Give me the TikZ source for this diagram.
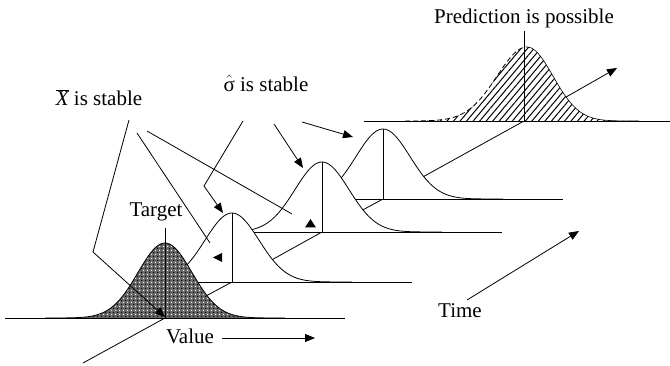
\documentclass[tikz,border=0pt]{standalone}
\usepackage{fontspec}
\setmainfont{Liberation Serif}
\usetikzlibrary{arrows.meta,patterns,patterns.meta}
\begin{document}
\begin{tikzpicture}[x=1pt,y=-1pt,line width=0.8pt,
  lbl/.style={font=\fontsize{21}{24}\selectfont,inner sep=0pt},
  tip/.style={-{Triangle[length=10pt,width=8pt]}},
  tri/.style={fill=black,draw=none}]
\useasboundingbox (0,0) rectangle (670,366);
% origins of the value axes
\coordinate (O1) at (165,318);
\coordinate (O2) at (232,282);
\coordinate (O3) at (322,232);
\coordinate (O4) at (383,199);
\coordinate (O5) at (524,121);
\coordinate (D0) at (83,363);
\coordinate (D1) at (617,68);
% time axis (diagonal)
\draw[tip] (D0) -- (O1) -- (O2) -- (O3) -- (O4) -- (O5) -- (D1);
% curve 5 (prediction)
\draw (364,121) -- (670,121);
\fill[white] plot[domain=-122:0,samples=60] ({527+\x},{121-74*exp(-0.5*(\x/30)^2)})
  -- plot[domain=0:112,samples=60] ({527+\x},{121-74*exp(-0.5*(\x/26)^2)}) -- cycle;
\fill[pattern={Lines[angle=50,distance=5pt,line width=1pt]}]
  plot[domain=-122:0,samples=60] ({527+\x},{121-74*exp(-0.5*(\x/30)^2)})
  -- plot[domain=0:112,samples=60] ({527+\x},{121-74*exp(-0.5*(\x/26)^2)}) -- cycle;
\draw[dash pattern=on 5pt off 3pt] plot[domain=-122:0,samples=60] ({527+\x},{121-74*exp(-0.5*(\x/30)^2)});
\draw[line width=0.6pt] plot[domain=0:112,samples=60] ({527+\x},{121-74*exp(-0.5*(\x/26)^2)});
\draw (O5) -- (524,31);
% curve 4
\draw (330,199) -- (563,199);
\fill[white] plot[domain=-120:120,samples=90] ({383+\x},{199-70*exp(-0.5*(\x/27)^2)}) -- cycle;
\draw plot[domain=-85:120,samples=90] ({383+\x},{199-70*exp(-0.5*(\x/27)^2)});
\draw (O4) -- (383,129);
% curve 3
\draw (245,232) -- (502,232);
\fill[white] plot[domain=-120:120,samples=90] ({322+\x},{232-70*exp(-0.5*(\x/27)^2)}) -- cycle;
\draw plot[domain=-85:120,samples=90] ({322+\x},{232-70*exp(-0.5*(\x/27)^2)});
\draw (O3) -- (322,162);
% curve 2
\draw (175,282) -- (412,282);
\fill[white] plot[domain=-120:120,samples=90] ({232+\x},{282-69*exp(-0.5*(\x/27)^2)}) -- cycle;
\draw plot[domain=-85:120,samples=90] ({232+\x},{282-69*exp(-0.5*(\x/27)^2)});
\draw (O2) -- (232,213);
% curve 1 (front, shaded)
\draw (5,318) -- (345,318);
\fill[black!60] plot[domain=-120:120,samples=90] ({165+\x},{318-75*exp(-0.5*(\x/27)^2)}) -- cycle;
\fill[pattern={Dots[distance=4pt,radius=0.8pt]},pattern color=white] plot[domain=-120:120,samples=90] ({165+\x},{318-75*exp(-0.5*(\x/27)^2)}) -- cycle;
\fill[pattern={Dots[distance=4pt,radius=0.9pt,xshift=2pt,yshift=2pt]},pattern color=black] plot[domain=-120:120,samples=90] ({165+\x},{318-75*exp(-0.5*(\x/27)^2)}) -- cycle;
\draw plot[domain=-120:120,samples=90] ({165+\x},{318-75*exp(-0.5*(\x/27)^2)});
\coordinate (T1) at (165,228);
\draw (T1) -- (O1);
% labels
\node[lbl] (pred) at (524,18) {Prediction is possible};
\node[lbl] (sig) at (266,83) {$\hat{\hbox{σ}}$ is stable};
\node[lbl] (xbar) at (99,98) {$\overline{\hbox{\itshape X}}$ is stable};
\node[lbl] (target) at (156,212) {Target};
\node[lbl] (value) at (190,336) {Value};
\node[lbl] (time) at (460,311) {Time};
% value and time arrows
\coordinate (V0) at (222,338);
\coordinate (V1) at (315,338);
\draw[tip] (V0) -- (V1);
\coordinate (Ti0) at (467,300);
\coordinate (Ti1) at (579,231);
\draw[tip] (Ti0) -- (Ti1);
% X-bar pointers
\coordinate (X1a) at (129,120); \coordinate (X1b) at (93,252); \coordinate (X1c) at (165,317);
\draw[tip] (X1a) -- (X1b) -- (X1c);
\coordinate (X2a) at (137,133); \coordinate (X2b) at (210,243);
\draw (X2a) -- (X2b);
\fill[tri] (213,257.5) -- (222,253) -- (222,262) -- cycle;
\coordinate (X3a) at (147,131); \coordinate (X3b) at (292,214);
\draw (X3a) -- (X3b);
\fill[tri] (310.5,219) -- (316,227.5) -- (305,227.5) -- cycle;
% sigma pointers
\coordinate (S1a) at (243,121); \coordinate (S1b) at (204,186); \coordinate (S1c) at (223,213);
\draw[tip] (S1a) -- (S1b) -- (S1c);
\coordinate (S2a) at (274,124); \coordinate (S2b) at (303,168);
\draw[tip] (S2a) -- (S2b);
\coordinate (S3a) at (302,122); \coordinate (S3b) at (353,137);
\draw[tip] (S3a) -- (S3b);
\end{tikzpicture}
\end{document}
